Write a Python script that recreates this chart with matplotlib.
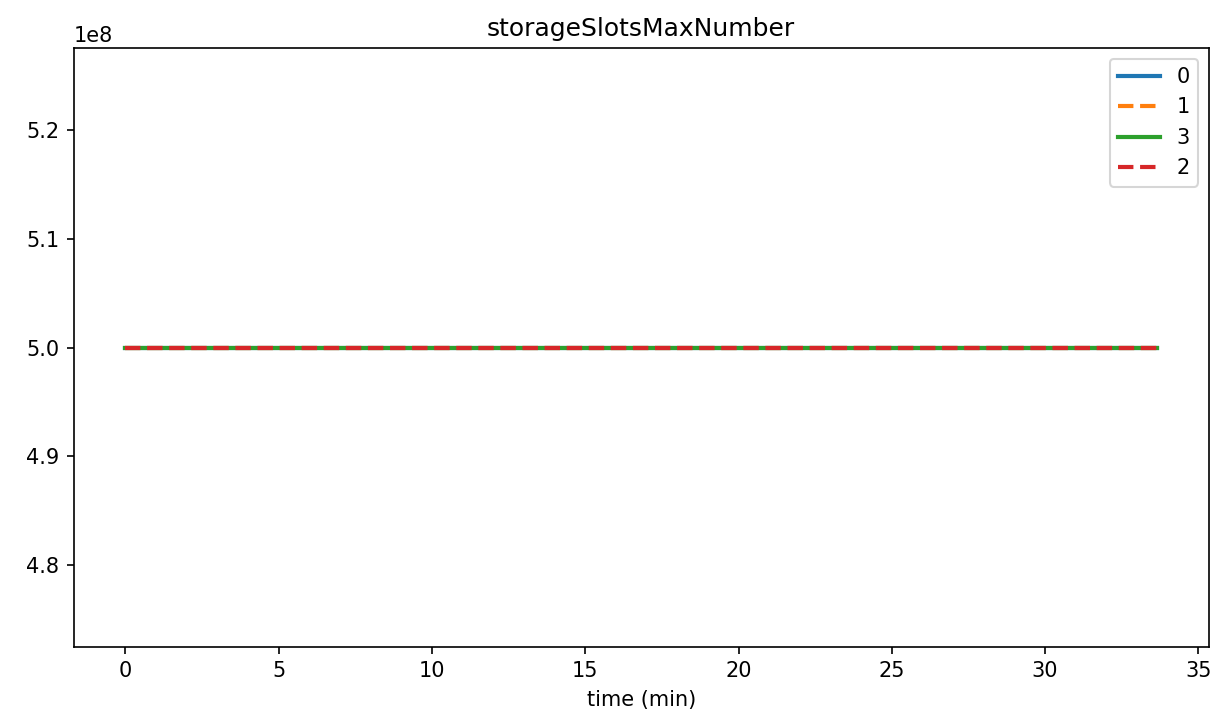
import matplotlib
matplotlib.use("Agg")
import matplotlib.pyplot as plt

# sample times (min) and the constant storageSlotsMaxNumber per node
time_min = [0.0, 5.6, 11.2, 16.8, 22.4, 28.0, 33.65]
labels = ["0", "1", "3", "2"]
values = {
    "0": [5e8] * 7,
    "1": [5e8] * 7,
    "3": [5e8] * 7,
    "2": [5e8] * 7,
}
styles = {"0": "-", "1": "--", "3": "-", "2": "--"}
colors = {"0": "tab:blue", "1": "tab:orange", "3": "tab:green", "2": "tab:red"}

fig, ax = plt.subplots(figsize=(1211 / 150, 721 / 150), dpi=150)
for lab in labels:
    ax.plot(time_min, values[lab], styles[lab], color=colors[lab], lw=2, label=lab)

ax.set_title("storageSlotsMaxNumber")
ax.set_xlabel("time (min)")
ax.legend(loc="upper right")
plt.subplots_adjust(left=0.061, right=0.998, top=0.933, bottom=0.103)
plt.savefig("out.png", dpi=150)
